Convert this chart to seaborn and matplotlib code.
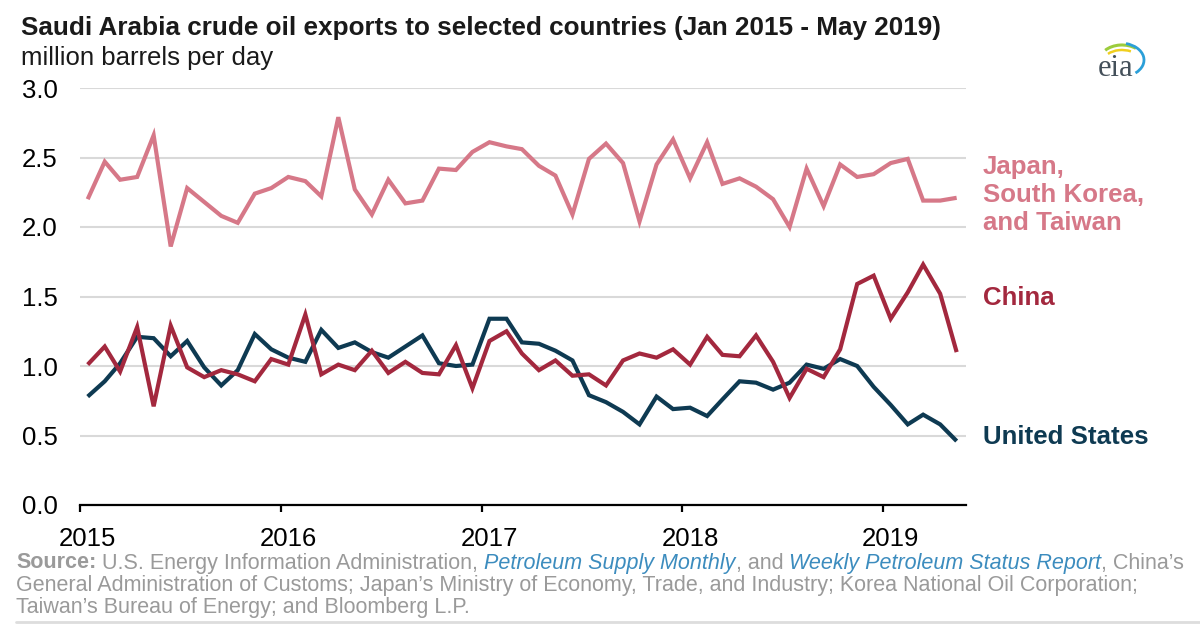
import numpy as np
import pandas as pd
import matplotlib
matplotlib.use("Agg")
import matplotlib.pyplot as plt
import matplotlib.transforms as mtransforms
from matplotlib.patches import Arc
import seaborn as sns

# ---------------- data ----------------
months = pd.date_range("2015-01-01", periods=53, freq="MS")
jkt = [2.20, 2.47, 2.34, 2.36, 2.66, 1.86, 2.28, 2.18, 2.08, 2.03,
       2.24, 2.28, 2.36, 2.33, 2.22, 2.79, 2.27, 2.09, 2.34, 2.17,
       2.19, 2.42, 2.41, 2.54, 2.61, 2.58, 2.56, 2.44, 2.37, 2.09,
       2.49, 2.60, 2.46, 2.04, 2.45, 2.63, 2.35, 2.61, 2.31, 2.35,
       2.29, 2.20, 2.00, 2.42, 2.15, 2.45, 2.36, 2.38, 2.46, 2.49,
       2.19, 2.19, 2.21]
china = [1.01, 1.14, 0.96, 1.28, 0.71, 1.29, 0.99, 0.92, 0.97, 0.94,
         0.89, 1.05, 1.01, 1.37, 0.94, 1.01, 0.97, 1.11, 0.95, 1.03,
         0.95, 0.94, 1.15, 0.84, 1.18, 1.25, 1.09, 0.97, 1.04, 0.93,
         0.94, 0.86, 1.04, 1.09, 1.06, 1.12, 1.01, 1.21, 1.08, 1.07,
         1.22, 1.03, 0.77, 0.98, 0.92, 1.12, 1.59, 1.65, 1.34, 1.53,
         1.73, 1.52, 1.10]
us = [0.78, 0.89, 1.02, 1.21, 1.20, 1.07, 1.18, 0.99, 0.86, 0.97,
      1.23, 1.12, 1.06, 1.03, 1.26, 1.13, 1.17, 1.10, 1.06, 1.14,
      1.22, 1.02, 1.00, 1.01, 1.34, 1.34, 1.17, 1.16, 1.11, 1.04,
      0.79, 0.74, 0.67, 0.58, 0.78, 0.69, 0.70, 0.64, 0.76, 0.89,
      0.88, 0.83, 0.88, 1.01, 0.98, 1.05, 1.00, 0.85, 0.72, 0.58,
      0.65, 0.58, 0.46]
series_names = ["Japan, South Korea, and Taiwan", "United States", "China"]
series_values = [jkt, us, china]
year_labels = ["2015", "2016", "2017", "2018", "2019"]
y_ticks = [0.0, 0.5, 1.0, 1.5, 2.0, 2.5, 3.0]

title = "Saudi Arabia crude oil exports to selected countries (Jan 2015 - May 2019)"
subtitle = "million barrels per day"

# ---------------- style ----------------
C_PINK = "#d67888"
C_RED = "#a3283e"
C_NAVY = "#0e3a52"
C_GRID = "#d9d9d9"
C_SRC = "#9a9a9a"
C_LINK = "#3c8cbe"
palette = {series_names[0]: C_PINK, series_names[1]: C_NAVY, series_names[2]: C_RED}

sns.set_theme(style="white")
FONT = ["Liberation Sans", "DejaVu Sans"]
plt.rcParams["font.family"] = FONT

W, H = 1200, 630
fig = plt.figure(figsize=(W / 100, H / 100), dpi=100)
fig.patch.set_facecolor("white")
PX = mtransforms.IdentityTransform()


def fy(y_img):
    return H - y_img


ax = fig.add_axes([80 / W, 1 - 505 / H, (966 - 80) / W, (505 - 88) / H])

# long-form frame
frames = []
for name, vals in zip(series_names, series_values):
    frames.append(pd.DataFrame({"date": months + pd.Timedelta(days=14),
                                "value": vals, "series": name}))
df = pd.concat(frames, ignore_index=True)

sns.lineplot(data=df, x="date", y="value", hue="series", hue_order=series_names,
             palette=palette, linewidth=3.0, legend=False, ax=ax,
             solid_joinstyle="miter", solid_capstyle="butt")

ax.set_ylim(0, 3.0)
ax.set_xlim(pd.Timestamp("2015-01-01"), pd.Timestamp("2019-06-01"))
ax.set_yticks(y_ticks)
ax.set_yticklabels([f"{v:.1f}" for v in y_ticks])
ax.yaxis.grid(True, color=C_GRID, linewidth=1.5)
ax.xaxis.grid(False)
ax.set_axisbelow(True)
for s in ["top", "right", "left"]:
    ax.spines[s].set_visible(False)
ax.spines["bottom"].set_color("black")
ax.spines["bottom"].set_linewidth(1.6)
ax.spines["bottom"].set_zorder(5)

year_starts = [pd.Timestamp(f"{y}-01-01") for y in year_labels]
year_mids = [pd.Timestamp(f"{y}-01-15") for y in year_labels]
ax.set_xticks(year_starts)
ax.set_xticklabels([""] * len(year_starts))
ax.set_xticks(year_mids, minor=True)
ax.set_xticklabels(year_labels, minor=True)
ax.tick_params(axis="x", which="major", length=5, width=1.6, color="black",
               direction="out", bottom=True)
ax.tick_params(axis="x", which="minor", length=0, pad=16, labelsize=18.5,
               labelcolor="black")
ax.tick_params(axis="y", length=0, pad=16, labelsize=18.5, labelcolor="black")
ax.set_xlabel("")
ax.set_ylabel("")

# ---------------- titles ----------------
fig.text(21, fy(28), title, transform=PX, fontsize=18.8, fontweight="bold",
         color="#1a1a1a", va="center", ha="left")
fig.text(21, fy(58), subtitle, transform=PX, fontsize=18.5, color="#1a1a1a",
         va="center", ha="left")

# ---------------- right-side labels ----------------
LBL = 18.6
for txt, yc in [("Japan,", 167), ("South Korea,", 195), ("and Taiwan", 223)]:
    fig.text(983, fy(yc), txt, transform=PX, fontsize=LBL, fontweight="bold",
             color=C_PINK, va="center", ha="left")
fig.text(983, fy(298), "China", transform=PX, fontsize=LBL, fontweight="bold",
         color=C_RED, va="center", ha="left")
fig.text(983, fy(437), "United States", transform=PX, fontsize=LBL, fontweight="bold",
         color=C_NAVY, va="center", ha="left")

# ---------------- eia logo ----------------
fig.text(1116, fy(68), "eia", transform=PX, fontsize=22, color="#44505a",
         family=["Liberation Serif", "DejaVu Serif"], va="center", ha="center")
for (cx, cy, w, h, t1, t2, col, lw) in [
        (1122, 60, 44, 30, 40, 150, "#9ccc3c", 2.2),
        (1122, 62, 38, 24, 50, 150, "#f0cf1e", 1.8),
        (1120, 60, 48, 34, -40, 70, "#2b9fd8", 2.0)]:
    arc = Arc((cx, fy(cy)), w, h, theta1=t1, theta2=t2, color=col, lw=lw,
              transform=PX)
    fig.add_artist(arc)

# ---------------- source text ----------------
renderer = fig.canvas.get_renderer()
SRC_SIZE = 15.5


def width_of(s, **kw):
    t = fig.text(0, 0, s, transform=PX, fontsize=SRC_SIZE, **kw)
    w = t.get_window_extent(renderer).width
    t.remove()
    return w


space_w = width_of("a a") - width_of("aa")


def rich_line(y_img, parts):
    x = 16
    for txt, kw in parts:
        if txt == " ":
            x += space_w
            continue
        t = fig.text(x, fy(y_img), txt, transform=PX, fontsize=SRC_SIZE,
                     va="center", ha="left", **kw)
        x += t.get_window_extent(renderer).width


G = dict(color=C_SRC)
GB = dict(color=C_SRC, fontweight="bold")
BI = dict(color=C_LINK, style="italic")
rich_line(563, [("Source:", GB), (" ", None),
                ("U.S. Energy Information Administration,", G), (" ", None),
                ("Petroleum Supply Monthly", BI), (", and", G), (" ", None),
                ("Weekly Petroleum Status Report", BI), (", China\u2019s", G)])
rich_line(586, [("General Administration of Customs; Japan\u2019s Ministry of Economy, "
                 "Trade, and Industry; Korea National Oil Corporation;", G)])
rich_line(608, [("Taiwan\u2019s Bureau of Energy; and Bloomberg L.P.", G)])

fig.add_artist(plt.Line2D([16, 1200], [fy(622), fy(622)], transform=PX,
                          color="#dddddd", lw=2))

fig.savefig("out.png", dpi=100, facecolor="white")
